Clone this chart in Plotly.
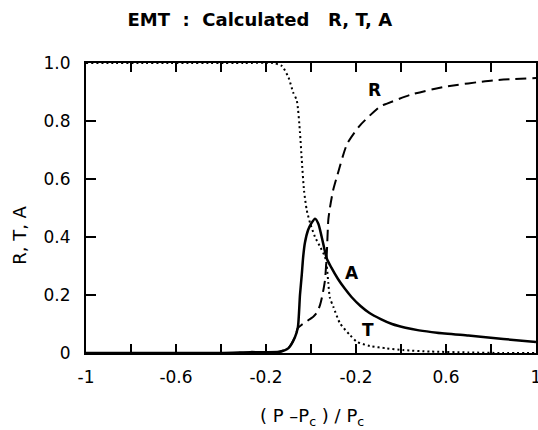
import plotly.graph_objects as go

# ---- data ----
t_x = [-1.0, -0.3, -0.17, -0.13, -0.1, -0.08, -0.063, -0.049, -0.041, -0.031,
       -0.019, -0.004, 0.018, 0.04, 0.062, 0.07, 0.077, 0.084, 0.099, 0.129,
       0.173, 0.203, 0.262, 0.336, 0.41, 0.53, 0.7, 0.85, 1.0]
t_y = [1.0, 1.0, 1.0, 0.99, 0.95, 0.90, 0.87, 0.76, 0.665, 0.56,
       0.493, 0.448, 0.40, 0.367, 0.332, 0.30, 0.24, 0.19, 0.16, 0.102,
       0.062, 0.039, 0.024, 0.016, 0.01, 0.005, 0.002, 0.0, 0.0]

a_x = [-1.0, -0.4, -0.27, -0.14, -0.1, -0.071, -0.058, -0.049, -0.041, -0.035,
       -0.027, -0.013, 0.0, 0.018, 0.033, 0.054, 0.07, 0.09, 0.12, 0.15,
       0.18, 0.22, 0.26, 0.31, 0.36, 0.42, 0.48, 0.56, 0.7, 0.81, 0.9, 1.0]
a_y = [0.0, 0.0, 0.003, 0.004, 0.017, 0.055, 0.09, 0.2, 0.27, 0.33,
       0.38, 0.424, 0.445, 0.463, 0.445, 0.378, 0.326, 0.295, 0.255, 0.222,
       0.193, 0.162, 0.138, 0.117, 0.1, 0.087, 0.078, 0.07, 0.06, 0.052, 0.045, 0.038]

r_x = [-1.0, -0.4, -0.2, -0.14, -0.1, -0.071, -0.058, -0.04, -0.018, 0.01, 0.027,
       0.04, 0.049, 0.062, 0.07, 0.077, 0.084, 0.098, 0.116, 0.16, 0.218, 0.307,
       0.338, 0.44, 0.587, 0.809, 1.0]
r_y = [0.0, 0.0, 0.002, 0.004, 0.017, 0.055, 0.086, 0.098, 0.11, 0.125, 0.14,
       0.165, 0.193, 0.25, 0.34, 0.46, 0.5, 0.56, 0.61, 0.72, 0.785, 0.85,
       0.86, 0.89, 0.917, 0.94, 0.948]

x_tickvals = [-1.0, -0.8, -0.6, -0.4, -0.2, 0.0, 0.2, 0.4, 0.6, 0.8, 1.0]
x_ticktext = ["-1", "", "-0.6", "", "-0.2", "", "-0.2", "", "0.6", "", "1"]
y_tickvals = [0.0, 0.2, 0.4, 0.6, 0.8, 1.0]
y_ticktext = ["0", "0.2", "0.4", "0.6", "0.8", "1.0"]

curve_labels = ["R", "A", "T"]
label_x = [0.284, 0.181, 0.255]
label_y = [0.907, 0.275, 0.079]

FONT = "DejaVu Sans"

fig = go.Figure()
fig.add_trace(go.Scatter(x=t_x, y=t_y, mode="lines", line=dict(color="black", width=2, dash="2px,3px", shape="spline", smoothing=0.6), name="T"))
fig.add_trace(go.Scatter(x=r_x, y=r_y, mode="lines", line=dict(color="black", width=2, dash="11px,6px", shape="spline", smoothing=0.6), name="R"))
fig.add_trace(go.Scatter(x=a_x, y=a_y, mode="lines", line=dict(color="black", width=2.5, shape="spline", smoothing=0.6), name="A"))

for s, lx, ly in zip(curve_labels, label_x, label_y):
    fig.add_annotation(x=lx, y=ly, text=s, showarrow=False, xanchor="center", yanchor="middle",
                       font=dict(family=FONT, size=17, color="black", weight="bold"))

fig.add_annotation(xref="paper", yref="paper", x=-0.147, y=0.407, text="R, T, A", textangle=-90,
                   xanchor="center", yanchor="middle", showarrow=False,
                   font=dict(family=FONT, size=18, color="black"))
fig.add_annotation(xref="paper", yref="paper", x=0.502, y=-0.22, text="( P \u2013P<sub>c</sub> ) / P<sub>c</sub>",
                   xanchor="center", yanchor="middle", showarrow=False,
                   font=dict(family=FONT, size=18, color="black"))

fig.update_layout(
    width=538, height=430,
    margin=dict(l=86, r=2, t=63, b=77, autoexpand=False),
    paper_bgcolor="white", plot_bgcolor="white",
    showlegend=False,
    title=dict(text="EMT  :  Calculated   R, T, A", x=0.483, xanchor="center", y=1 - 20 / 430, yanchor="middle",
               font=dict(family=FONT, size=18, color="black", weight="bold")),
    xaxis=dict(range=[-1, 1], tickvals=x_tickvals, ticktext=x_ticktext, ticks="inside", ticklen=9, tickwidth=2,
               tickcolor="black", showline=True, linewidth=2, linecolor="black", mirror="ticks", showgrid=False,
               zeroline=False, ticklabelstandoff=8, ticklabeloverflow="allow", automargin=False,
               tickfont=dict(family=FONT, size=17, color="black")),
    yaxis=dict(range=[0, 1], tickvals=y_tickvals, ticktext=y_ticktext, ticks="inside", ticklen=10, tickwidth=2,
               tickcolor="black", showline=True, linewidth=2, linecolor="black", mirror="ticks", showgrid=False,
               zeroline=False, ticklabelstandoff=10, ticklabeloverflow="allow", automargin=False,
               tickfont=dict(family=FONT, size=17, color="black")),
)

fig.write_html("out.html")
